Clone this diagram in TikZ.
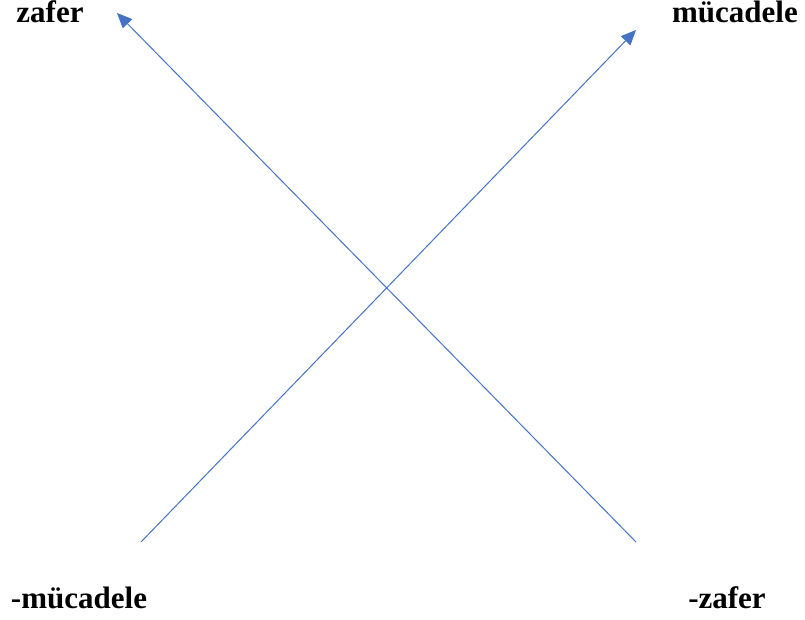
\documentclass[tikz,border=0pt]{standalone}
\usepackage{fontspec}
\setmainfont{Liberation Serif}
\usetikzlibrary{arrows.meta}
\definecolor{axisblue}{HTML}{4472C4}

\begin{document}
\begin{tikzpicture}[x=1pt, y=-1pt, font=\fontsize{31}{37}\selectfont\bfseries]
  \useasboundingbox (0,0) rectangle (805,620);

  \coordinate (ms) at (141,542);
  \coordinate (me) at (636,30);
  \coordinate (zs) at (636,542);
  \coordinate (ze) at (117,13);
  \draw[axisblue, line width=1pt, -{Triangle[length=15pt, width=13pt]}] (ms) -- (me);
  \draw[axisblue, line width=1pt, -{Triangle[length=15pt, width=13pt]}] (zs) -- (ze);

  \node[anchor=base] (zafer) at (50,23) {zafer};
  \node[anchor=base] (muc) at (735,23) {mücadele};
  \node[anchor=base] (nmuc) at (79,608) {-mücadele};
  \node[anchor=base] (nzafer) at (727,608) {-zafer};
\end{tikzpicture}
\end{document}
